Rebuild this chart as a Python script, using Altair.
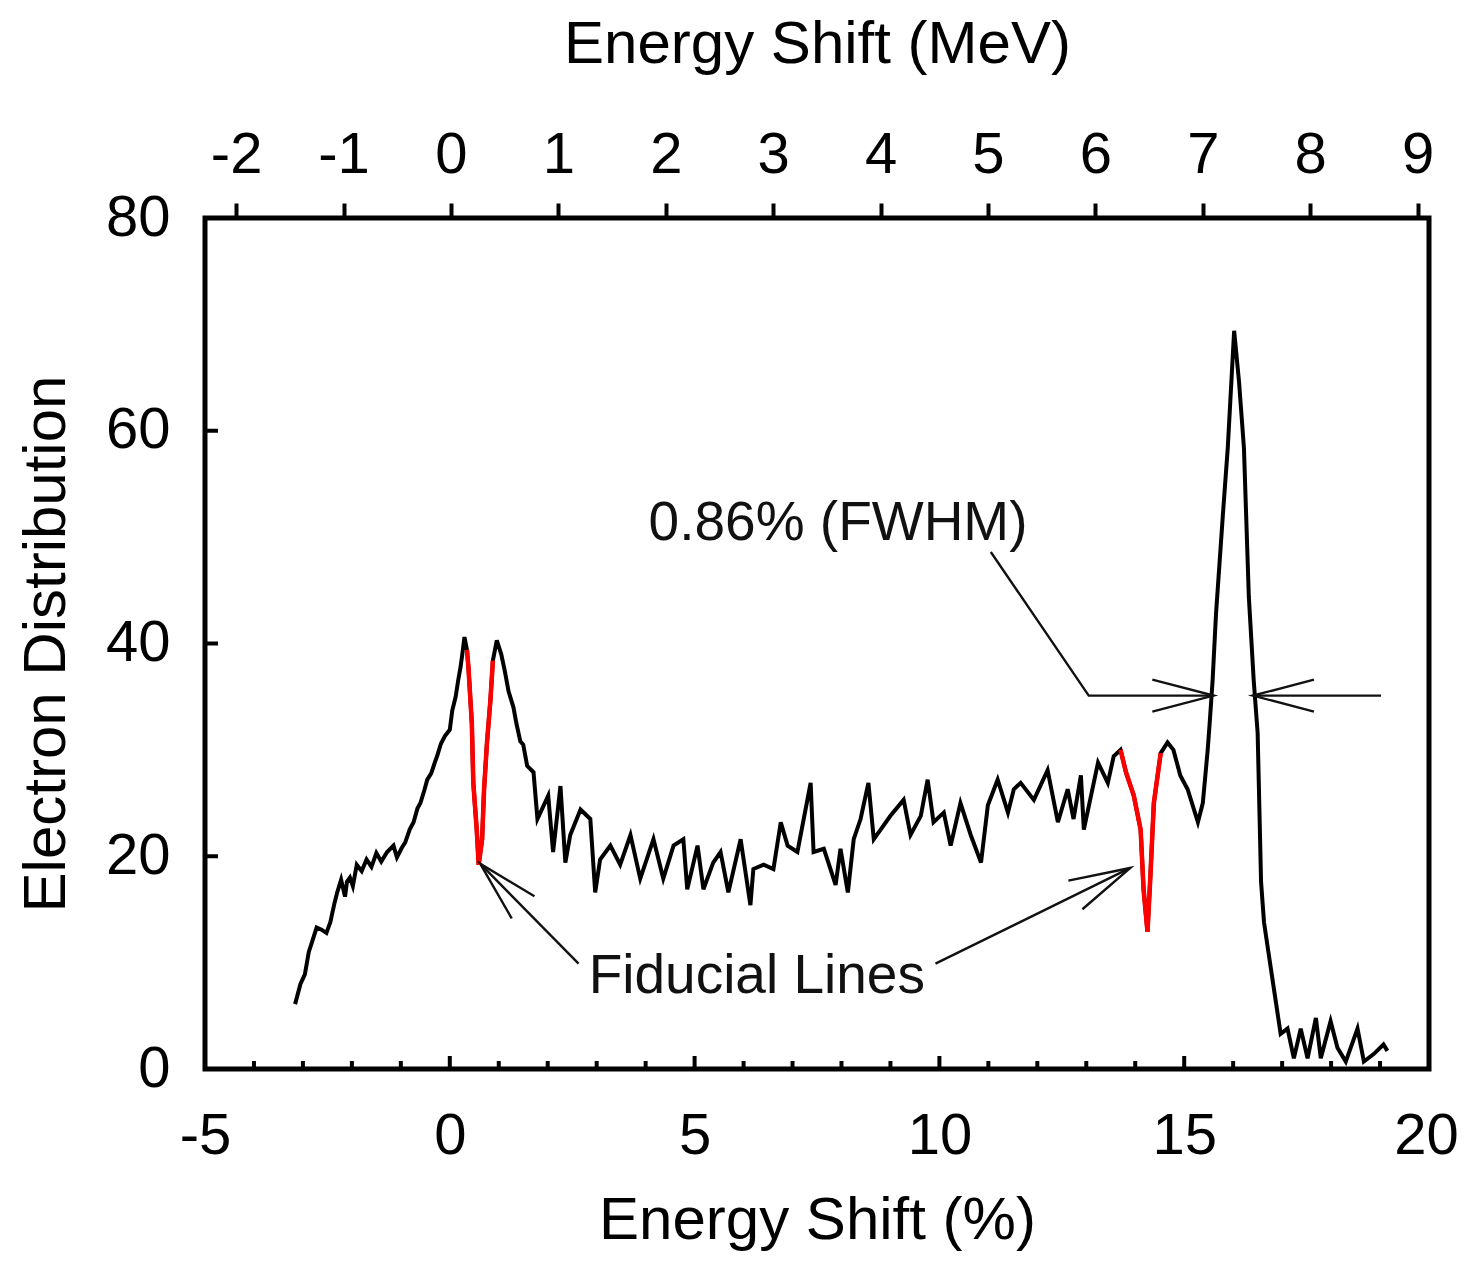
import math
import altair as alt
import pandas as pd

# ---------------- data ----------------
# Electron distribution vs energy shift (%)
x_pct = [-3.16, -3.05, -2.96, -2.88, -2.81, -2.72, -2.62, -2.52, -2.44, -2.36, -2.30, -2.22,
         -2.14, -2.10, -2.04, -1.98, -1.90, -1.80, -1.70, -1.60, -1.50, -1.40, -1.28, -1.15,
         -1.08, -0.98, -0.91, -0.82, -0.74, -0.66, -0.60, -0.52, -0.46, -0.38, -0.30, -0.26,
         -0.18, -0.10, 0.00, 0.05, 0.12, 0.17, 0.22, 0.25, 0.30, 0.35,
         0.38, 0.45, 0.48, 0.55, 0.59, 0.66, 0.70, 0.76, 0.83, 0.88,
         0.96, 1.05, 1.12, 1.20, 1.30, 1.36, 1.44, 1.50, 1.58, 1.71, 1.79, 2.01, 2.11, 2.26,
         2.36, 2.46, 2.67, 2.87, 2.97, 3.07, 3.28, 3.48, 3.69, 3.89, 4.16, 4.36, 4.57, 4.77,
         4.85, 5.06, 5.18, 5.38, 5.53, 5.69, 5.94, 6.14, 6.20, 6.41, 6.61, 6.76, 6.90, 7.10,
         7.37, 7.43, 7.64, 7.88, 7.98, 8.13, 8.25, 8.39, 8.55, 8.66, 8.80, 9.00, 9.27, 9.41,
         9.62, 9.76, 9.88, 10.09, 10.23, 10.43, 10.64, 10.85, 10.99, 11.19, 11.40, 11.52,
         11.66, 11.93, 12.21, 12.42, 12.62, 12.74, 12.89, 12.95, 13.24, 13.44, 13.56, 13.70,
         13.81, 13.97, 14.11, 14.17, 14.25, 14.31, 14.38, 14.52,
         14.66, 14.78, 14.92, 15.07, 15.28, 15.38, 15.48, 15.52, 15.58, 15.65, 15.79, 15.89,
         16.02, 16.12, 16.22, 16.32, 16.42, 16.50, 16.57, 16.63, 16.71, 16.83, 16.97, 17.11,
         17.24, 17.38, 17.52, 17.69, 17.79, 17.99, 18.13, 18.30, 18.54, 18.67, 18.87, 19.07,
         19.15]
y_dist = [6.1, 8.0, 8.9, 11.0, 12.0, 13.3, 13.1, 12.8, 13.8, 15.5, 16.6, 17.8,
          16.2, 17.6, 18.0, 17.2, 19.2, 18.6, 19.7, 19.0, 20.3, 19.5, 20.4, 21.0,
          19.9, 20.8, 21.3, 22.5, 23.2, 24.5, 25.0, 26.2, 27.2, 27.8, 28.9, 29.4,
          30.6, 31.3, 31.9, 33.7, 35.0, 36.5, 37.8, 38.8, 40.6, 39.4,
          37.8, 32.5, 26.9, 22.5, 19.2, 21.6, 26.3, 30.7, 34.7, 38.4,
          40.3, 39.0, 37.5, 35.5, 34.0, 32.5, 30.8, 30.5, 28.5, 27.9, 23.5, 25.7, 20.4, 26.6,
          19.4, 22.0, 24.4, 23.5, 16.6, 19.7, 21.0, 19.2, 22.0, 17.9, 21.6, 17.9, 21.0, 21.6,
          16.9, 21.0, 16.9, 19.4, 20.4, 16.6, 21.6, 15.4, 18.8, 19.2, 18.8, 23.2, 21.0, 20.4,
          26.9, 20.4, 20.7, 17.3, 20.7, 16.6, 21.6, 23.5, 26.9, 21.6, 22.5, 23.8, 25.3, 22.0,
          23.8, 27.2, 23.2, 24.1, 21.0, 25.0, 22.0, 19.4, 24.8, 27.2, 24.1, 26.3,
          26.9, 25.3, 28.1, 23.2, 26.3, 23.5, 27.6, 22.5, 28.8, 26.9, 29.4, 30.0,
          27.9, 25.7, 22.5, 16.9, 12.9, 18.2, 25.0, 29.7,
          30.7, 30.0, 27.6, 26.3, 23.2, 25.0, 30.0, 32.5, 36.5, 42.8, 52.1, 58.4,
          69.4, 64.6, 58.4, 44.4, 36.5, 31.6, 17.6, 13.8, 11.3, 7.6, 3.3, 3.8,
          1.0, 3.8, 1.0, 4.8, 1.0, 4.5, 2.0, 0.7, 3.8, 0.7, 1.4, 2.3,
          1.7]

# fiducial-line portions drawn in red (x ranges, %)
red_ranges = [[0.35, 0.88], [13.70, 14.52]]

# axis ticks
x_ticks = [-5, 0, 5, 10, 15, 20]
x_minor = [-4, -3, -2, -1, 1, 2, 3, 4, 6, 7, 8, 9, 11, 12, 13, 14, 16, 17, 18, 19]
x_major_inner = [0, 5, 10, 15]
y_ticks = [0, 20, 40, 60, 80]
y_major_inner = [20, 40, 60]
mev_ticks = [-2, -1, 0, 1, 2, 3, 4, 5, 6, 7, 8, 9]
mev_domain = [-2.29, 9.106]

# annotations
fwhm_label = "0.86% (FWHM)"
fwhm_text_pos = [7.93, 49.7]
fwhm_left_line = [[11.05, 48.6], [13.05, 35.1], [15.6, 35.1]]
fwhm_right_line = [[19.02, 35.1], [16.4, 35.1]]
fid_label = "Fiducial Lines"
fid_text_pos = [6.27, 7.1]
fid_arrow1 = [[2.63, 9.9], [0.62, 19.3]]
fid_arrow2 = [[9.92, 9.9], [13.9, 18.9]]

# ---------------- build chart ----------------
W, H = 1224, 851
XD, YD = [-5, 20], [0, 80]
FONT = "Liberation Sans"
kx = W / (XD[1] - XD[0])
ky = H / (YD[1] - YD[0])

main_df = pd.DataFrame({"x": x_pct, "y": y_dist, "i": range(len(x_pct))})
red_rows = []
for k, (a, b) in enumerate(red_ranges):
    for i, (xv, yv) in enumerate(zip(x_pct, y_dist)):
        if a <= xv <= b:
            red_rows.append({"x": xv, "y": yv, "seg": k, "i": i})
red_df = pd.DataFrame(red_rows)

ann_rows = []
for k, line in enumerate([fwhm_left_line, fwhm_right_line, fid_arrow1, fid_arrow2]):
    for j, (xv, yv) in enumerate(line):
        ann_rows.append({"x": xv, "y": yv, "seg": k, "o": j})
ann_df = pd.DataFrame(ann_rows)


def heading(p0, p1):
    dx = (p1[0] - p0[0]) * kx
    dy = -(p1[1] - p0[1]) * ky
    return math.degrees(math.atan2(dy, dx)) % 360


heads = []
for line in [fwhm_left_line, fwhm_right_line, fid_arrow1, fid_arrow2]:
    heads.append({"x": line[-1][0], "y": line[-1][1], "a": heading(line[-2], line[-1])})
head_df = pd.DataFrame(heads)

xs = alt.Scale(domain=XD, nice=False, zero=False)
ys = alt.Scale(domain=YD, nice=False, zero=False)

plain_label = "'' + datum.value"

x_axis = alt.Axis(values=x_ticks, ticks=False, tickSize=0, domain=False, grid=False,
                  labelExpr=plain_label,
                  labelOffset={"condition": {"test": "datum.value == 20", "value": -3},
                               "value": 0},
                  labelFont=FONT, labelFontSize=58, labelColor="black", labelPadding=84,
                  labelBaseline="alphabetic", labelFlush=False, labelOverlap=False,
                  title="Energy Shift (%)", titleFont=FONT, titleFontSize=60,
                  titleFontWeight="normal", titleColor="black", titleY=169,
                  titleBaseline="alphabetic")
y_axis = alt.Axis(values=y_ticks, ticks=False, tickSize=0, domain=False, grid=False,
                  labelFont=FONT, labelFontSize=58, labelColor="black", labelPadding=35,
                  labelFlush=False, labelOverlap=False,
                  title="Electron Distribution", titleFont=FONT, titleFontSize=60,
                  titleFontWeight="normal", titleColor="black", titleAngle=270,
                  titleX=-141, titleY=H / 2, titleBaseline="alphabetic")

black_line = alt.Chart(main_df).mark_line(color="black", strokeWidth=4).encode(
    x=alt.X("x:Q", scale=xs, axis=x_axis),
    y=alt.Y("y:Q", scale=ys, axis=y_axis),
    order="i:Q",
)
red_line = alt.Chart(red_df).mark_line(color="#ff0000", strokeWidth=4.5).encode(
    x=alt.X("x:Q", scale=xs), y=alt.Y("y:Q", scale=ys), detail="seg:N", order="i:Q"
)
ann_lines = alt.Chart(ann_df).mark_line(color="#111111", strokeWidth=2.4).encode(
    x=alt.X("x:Q", scale=xs), y=alt.Y("y:Q", scale=ys), detail="seg:N", order="o:Q"
)
ann_heads = alt.Chart(head_df).mark_point(
    shape="M-1,-0.26L0,0L-1,0.26", filled=False, size=15000, strokeWidth=2.4,
    color="#111111", opacity=1,
).encode(
    x=alt.X("x:Q", scale=xs), y=alt.Y("y:Q", scale=ys), angle=alt.Angle("a:Q", scale=None)
)
text_df = pd.DataFrame([
    {"x": fwhm_text_pos[0], "y": fwhm_text_pos[1], "t": fwhm_label},
    {"x": fid_text_pos[0], "y": fid_text_pos[1], "t": fid_label},
])
ann_text = alt.Chart(text_df).mark_text(
    font=FONT, fontSize=55, color="#111111", align="center", baseline="alphabetic"
).encode(x=alt.X("x:Q", scale=xs), y=alt.Y("y:Q", scale=ys), text="t:N")

minor_ticks = alt.Chart(pd.DataFrame({"t": x_minor})).mark_rule(
    color="black", strokeWidth=4).encode(
    x=alt.X("t:Q", scale=xs), y=alt.value(H), y2=alt.value(H - 8))
major_ticks = alt.Chart(pd.DataFrame({"t": x_major_inner})).mark_rule(
    color="black", strokeWidth=4).encode(
    x=alt.X("t:Q", scale=xs), y=alt.value(H), y2=alt.value(H - 13))
y_inner_ticks = alt.Chart(pd.DataFrame({"t": y_major_inner})).mark_rule(
    color="black", strokeWidth=4).encode(
    y=alt.Y("t:Q", scale=ys), x=alt.value(0), x2=alt.value(13))

main = alt.layer(minor_ticks, major_ticks, y_inner_ticks, black_line, red_line,
                 ann_lines, ann_heads, ann_text)

top_axis = alt.Chart(pd.DataFrame({"m": mev_ticks})).mark_point(opacity=0).encode(
    x=alt.X("m:Q", scale=alt.Scale(domain=mev_domain, nice=False, zero=False),
            axis=alt.Axis(orient="top", values=mev_ticks, ticks=True, tickSize=15,
                          tickWidth=4, tickColor="black", domain=False, grid=False,
                          labelExpr=plain_label,
                          labelFont=FONT, labelFontSize=58, labelColor="black",
                          labelPadding=31, labelBaseline="alphabetic", labelFlush=False,
                          labelOverlap=False,
                          title="Energy Shift (MeV)", titleFont=FONT, titleFontSize=60,
                          titleFontWeight="normal", titleColor="black", titleY=-156,
                          titleBaseline="alphabetic")),
    y=alt.value(0),
)

chart = alt.layer(main, top_axis).resolve_scale(x="independent").properties(
    width=W, height=H,
    background="white",
    autosize=alt.AutoSizeParams(type="none"),
    padding={"left": 197, "top": 210, "right": 30, "bottom": 184},
).configure_view(stroke="black", strokeWidth=5)

chart.save("out.html", embed_options={"renderer": "svg", "actions": False})
